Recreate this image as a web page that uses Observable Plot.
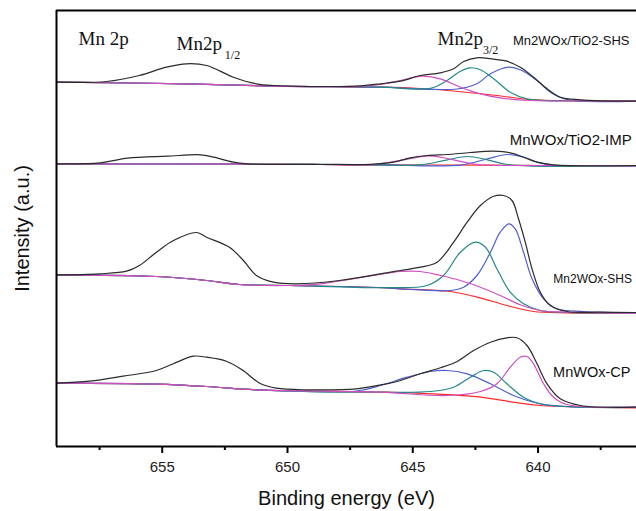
<!DOCTYPE html>
<html><head><meta charset="utf-8">
<script src="https://cdn.jsdelivr.net/npm/d3@7"></script>
<script src="https://cdn.jsdelivr.net/npm/@observablehq/plot@0.6"></script>
<style>body{margin:0;background:#fff;}</style>
</head><body><div id="chart"></div>
<script>
// ---- axis data ----
const xDomain = [659.22, 636.07];
const yDomain = [0, 436];
const xTicks = [655, 650, 645, 640];
const xMinorTicks = [657.5, 652.5, 647.5, 642.5, 637.5];
const xLabel = "Binding energy (eV)";
const yLabel = "Intensity (a.u.)";

// ---- spectrum 1: Mn2WOx/TiO2-SHS  [binding energy, intensity] ----
const s1Env = [[659.22,364.3],[657.22,365.0],[655.91,371.0],[654.83,379.3],[654.03,382.7],[653.23,381.0],[652.16,369.3],[651.24,362.7],[650.56,361.0],[648.29,360.0],[647.09,360.7],[646.29,362.7],[645.49,365.3],[644.70,371.0],[643.90,373.7],[643.37,377.7],[642.97,385.0],[642.44,388.7],[641.77,387.3],[641.24,385.3],[640.71,379.3],[640.18,369.3],[639.64,357.7],[639.11,349.3],[638.31,346.7],[636.07,345.3]];
const s1Bg = [[659.22,364.3],[654.03,362.7],[650.56,360.3],[648.29,359.8],[646.29,359.3],[644.70,358.0],[643.63,356.0],[641.64,351.0],[640.31,347.0],[638.31,345.8],[636.07,345.3]];
const s1PeakA = [[647.25,359.9],[646.29,362.0],[645.49,366.0],[644.63,370.3],[643.90,367.7],[643.10,359.3],[642.30,352.7],[641.51,348.7],[640.31,346.0],[638.31,345.5],[636.07,345.3]];
const s1PeakB = [[646.29,359.3],[644.30,358.2],[643.63,366.0],[643.10,375.3],[642.70,378.7],[642.30,376.7],[641.77,367.7],[641.11,354.3],[640.44,347.7],[638.31,345.5],[636.07,345.3]];
const s1PeakC = [[646.29,359.3],[643.23,357.5],[642.44,362.7],[641.90,372.7],[641.17,379.3],[640.71,376.7],[640.04,366.0],[639.51,354.3],[638.85,347.0],[636.07,345.3]];

// ---- spectrum 2: MnWOx/TiO2-IMP ----
const s2Env = [[659.22,282.7],[657.46,283.7],[656.38,288.3],[654.79,290.3],[653.47,291.7],[652.95,289.3],[652.16,284.3],[651.60,282.7],[648.69,282.2],[646.69,282.2],[645.77,284.3],[645.10,288.7],[644.42,291.0],[643.62,292.0],[642.70,294.0],[641.78,295.3],[641.11,293.7],[640.58,289.3],[640.03,284.3],[639.39,281.7],[636.07,281.0]];
const s2Bg = [[659.22,282.7],[652.00,282.3],[648.69,282.0],[646.29,281.7],[642.00,281.3],[640.00,280.9],[636.07,280.6]];
const s2PeakA = [[646.69,281.8],[645.37,286.7],[644.30,290.7],[643.37,286.7],[642.42,282.0],[640.00,281.0],[636.07,280.6]];
const s2PeakB = [[644.70,281.6],[643.62,286.7],[642.82,290.0],[642.02,286.7],[641.23,282.0],[636.07,280.6]];
const s2PeakC = [[643.10,281.4],[642.02,287.7],[641.23,292.0],[640.58,289.3],[639.91,283.3],[639.39,281.3],[636.07,280.6]];

// ---- spectrum 3: Mn2WOx-SHS ----
const s3Env = [[659.22,171.7],[657.50,172.7],[656.42,175.3],[655.91,181.0],[655.23,194.3],[654.55,206.0],[653.63,214.0],[653.23,209.3],[652.32,199.3],[651.76,186.0],[651.24,171.0],[650.56,164.3],[649.64,162.7],[647.93,166.0],[646.05,173.7],[645.49,176.0],[644.70,179.3],[644.03,184.3],[643.37,204.3],[642.83,224.3],[642.30,241.0],[641.77,250.3],[641.37,251.0],[641.04,246.0],[640.78,227.7],[640.51,204.3],[640.24,177.7],[639.91,154.3],[639.51,141.0],[638.85,135.0],[637.52,134.3],[636.07,134.0]];
const s3Bg = [[659.22,171.7],[655.23,170.0],[653.23,166.0],[651.92,162.0],[649.92,161.0],[646.05,158.7],[645.49,157.7],[643.50,155.0],[642.17,147.7],[641.24,141.0],[640.18,135.0],[638.85,133.7],[636.07,133.3]];
const s3PeakA = [[648.69,162.7],[646.69,170.5],[645.49,175.0],[644.70,175.0],[643.90,171.0],[643.10,166.0],[642.30,159.3],[641.51,151.0],[640.71,141.7],[639.91,136.0],[638.85,134.3],[636.07,133.3]];
const s3PeakB = [[646.05,158.8],[644.43,161.0],[643.77,171.0],[643.10,194.3],[642.50,204.3],[642.10,199.3],[641.64,177.7],[641.11,154.3],[640.58,142.7],[639.91,136.0],[638.85,134.0],[636.07,133.3]];
const s3PeakC = [[645.49,157.7],[643.50,156.0],[642.97,159.3],[642.44,171.0],[641.90,194.3],[641.51,214.3],[641.17,222.7],[640.91,217.7],[640.58,194.3],[640.24,167.7],[639.78,147.7],[639.24,137.7],[638.19,135.0],[636.07,133.7]];

// ---- spectrum 4: MnWOx-CP ----
const s4Env = [[659.22,63.3],[657.90,65.3],[656.56,70.3],[655.23,76.0],[654.56,82.7],[653.76,90.3],[653.23,89.3],[652.44,85.3],[651.77,76.0],[651.11,63.3],[650.44,58.3],[649.24,56.7],[647.25,57.7],[646.05,62.7],[645.49,66.0],[644.70,72.7],[643.90,78.7],[643.23,85.0],[642.57,96.0],[641.90,104.3],[641.24,108.7],[640.84,108.7],[640.44,101.0],[640.04,82.7],[639.64,62.7],[639.11,47.7],[638.31,41.0],[636.07,39.3]];
const s4Bg = [[659.22,63.3],[655.23,62.3],[653.23,60.0],[651.24,56.7],[646.05,54.3],[644.30,52.7],[642.30,49.3],[640.98,44.3],[639.91,41.0],[636.07,38.7]];
const s4PeakA = [[647.25,55.5],[646.29,61.0],[645.23,69.3],[644.30,75.0],[643.63,76.0],[642.83,72.7],[641.90,62.7],[640.98,51.0],[639.91,42.7],[638.85,40.0],[636.07,39.3]];
const s4PeakB = [[646.29,54.3],[644.30,55.0],[643.37,59.3],[642.70,69.3],[642.17,76.0],[641.77,74.3],[641.24,62.7],[640.58,49.3],[639.78,42.0],[636.07,39.0]];
const s4PeakC = [[646.29,54.3],[643.63,51.0],[642.30,55.0],[641.64,62.7],[641.11,79.3],[640.71,89.3],[640.44,90.0],[640.18,82.7],[639.78,62.7],[639.38,49.3],[638.85,42.0],[636.07,39.3]];

// ---- sample names and annotations (position in data units) ----
const sampleNames = ["Mn2WOx/TiO2-SHS", "MnWOx/TiO2-IMP", "Mn2WOx-SHS", "MnWOx-CP"];
const sampleLabelPos = [[641.00,406.0],[641.13,306.3],[639.39,167.7],[639.40,74.3]];
const sampleLabelSize = [13, 15, 12, 14.5];

// ---- colours ----
const cEnv = "#2b2b2b", cBg = "#ff2a2a", cMag = "#d04fc0", cTeal = "#23898a", cBlue = "#4e5fcf";

const spectra = [
  {env: s1Env, bg: s1Bg, blue: s1PeakC, teal: s1PeakB, mag: s1PeakA},
  {env: s2Env, bg: s2Bg, blue: s2PeakC, teal: s2PeakB, mag: s2PeakA},
  {env: s3Env, bg: s3Bg, blue: s3PeakC, teal: s3PeakB, mag: s3PeakA},
  {env: s4Env, bg: s4Bg, blue: s4PeakA, teal: s4PeakB, mag: s4PeakC}
];

function withBaseline(bg, comp) {
  const start = comp[0][0];
  return bg.filter(p => p[0] > start + 0.05).concat(comp);
}

const curve = "catmull-rom";
const lineMarks = [];
for (const s of spectra) {
  const base = {x: d => d[0], y: d => d[1], curve, strokeWidth: 1.2};
  lineMarks.push(Plot.line(s.bg, {...base, stroke: cBg}));
  lineMarks.push(Plot.line(withBaseline(s.bg, s.blue), {...base, stroke: cBlue}));
  lineMarks.push(Plot.line(withBaseline(s.bg, s.teal), {...base, stroke: cTeal}));
  lineMarks.push(Plot.line(withBaseline(s.bg, s.mag), {...base, stroke: cMag}));
  lineMarks.push(Plot.line(s.env, {...base, stroke: cEnv}));
}

const sampleLabels = sampleNames.map((t, i) => ({t, x: sampleLabelPos[i][0], y: sampleLabelPos[i][1], s: sampleLabelSize[i]}));

const serifMain = [
  {t: "Mn 2p", x: 658.34, y: 407.4},
  {t: "Mn2p", x: 654.43, y: 402.1},
  {t: "Mn2p", x: 644.01, y: 407.1}
];
const serifSub = [
  {t: "1/2", x: 652.50, y: 391.8},
  {t: "3/2", x: 642.20, y: 396.8}
];

const chart = Plot.plot({
  width: 636, height: 511,
  marginLeft: 56, marginRight: 0, marginTop: 10, marginBottom: 65,
  style: {fontFamily: "Liberation Sans, Arial, sans-serif", background: "#fff", overflow: "visible"},
  x: {domain: xDomain, axis: null},
  y: {domain: yDomain, axis: null},
  marks: [
    ...lineMarks,
    Plot.ruleY([yDomain[0], yDomain[1]], {stroke: "#000", strokeWidth: 2}),
    Plot.ruleX([xDomain[0]], {stroke: "#000", strokeWidth: 2}),
    Plot.axisX(xTicks, {tickSize: 7, tickPadding: 8, fontSize: 15, strokeWidth: 2, label: null, tickFormat: d => String(d), fill: "#222"}),
    Plot.axisX(xMinorTicks, {tickSize: 4, text: null, strokeWidth: 2, label: null}),
    Plot.text([xLabel], {frameAnchor: "bottom", dy: 58, fontSize: 20, fill: "#111"}),
    Plot.text([yLabel], {frameAnchor: "left", textAnchor: "middle", rotate: -90, dx: -34, fontSize: 20, fill: "#111"}),
    Plot.text(sampleLabels, {x: "x", y: "y", text: "t", fontSize: d => d.s, textAnchor: "start", fill: "#111"}),
    Plot.text(serifMain, {x: "x", y: "y", text: "t", fontSize: 19, textAnchor: "start", fontFamily: "Liberation Serif", fill: "#111"}),
    Plot.text(serifSub, {x: "x", y: "y", text: "t", fontSize: 12, textAnchor: "start", fontFamily: "Liberation Serif", fill: "#111"})
  ]
});
document.getElementById("chart").appendChild(chart);
</script>
</body></html>
